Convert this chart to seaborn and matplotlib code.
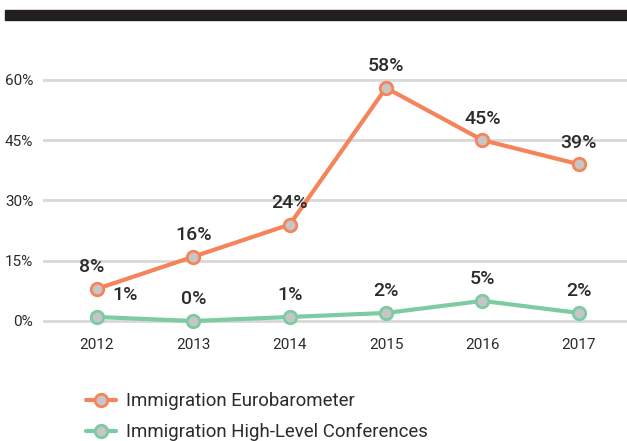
import matplotlib
matplotlib.use("Agg")
import matplotlib.pyplot as plt
from matplotlib.lines import Line2D
import seaborn as sns
import pandas as pd

years = [2012, 2013, 2014, 2015, 2016, 2017]
eurobarometer = [8, 16, 24, 58, 45, 39]
conferences = [1, 0, 1, 2, 5, 2]
series_names = ["Immigration Eurobarometer", "Immigration High-Level Conferences"]
y_ticks = [0, 15, 30, 45, 60]

ORANGE = "#F5845A"
GREEN = "#7CCBA2"
MARKER_FACE = "#C6C6C6"
TEXT = "#2B2B2B"
GRID = "#D8D8D8"

df = pd.DataFrame({
    "year": years * 2,
    "value": eurobarometer + conferences,
    "series": [series_names[0]] * len(years) + [series_names[1]] * len(years),
})

sns.set_theme(style="white")
plt.rcParams["font.family"] = ["Roboto", "DejaVu Sans"]

fig = plt.figure(figsize=(6.27, 4.41), dpi=100)
ax = fig.add_axes([43 / 627, 1 - 330 / 441, (627 - 43) / 627, 300 / 441])

palette = {series_names[0]: ORANGE, series_names[1]: GREEN}
sns.lineplot(data=df, x="year", y="value", hue="series", palette=palette,
             ax=ax, linewidth=3.0, marker="o", markersize=9,
             markerfacecolor=MARKER_FACE, markeredgewidth=2.0,
             legend=False, zorder=3)
for line, name in zip(ax.lines, series_names):
    line.set_markeredgecolor(palette[name])

ax.set_xlim(2011.44, 2017.5)
ax.set_ylim(-2.24, 72.4)
ax.set_yticks(y_ticks)
ax.set_yticklabels([f"{t}%" for t in y_ticks])
ax.set_xticks(years)
ax.set_xticklabels([str(y) for y in years])
ax.tick_params(axis="both", length=0, labelsize=11, labelcolor=TEXT)
ax.tick_params(axis="y", pad=7)
ax.tick_params(axis="x", pad=6)
ax.set_xlabel("")
ax.set_ylabel("")
ax.yaxis.grid(True, color=GRID, linewidth=2.0, zorder=0)
ax.xaxis.grid(False)
for s in ax.spines.values():
    s.set_visible(False)

# value labels
for i, (yr, v) in enumerate(zip(years, eurobarometer)):
    dx = -4 if i == 0 else 0
    ax.annotate(f"{v}%", (yr, v), xytext=(dx, 9), textcoords="offset points",
                ha="center", va="bottom", fontsize=14, fontweight="medium",
                color=TEXT)
for i, (yr, v) in enumerate(zip(years, conferences)):
    dx = 20 if i == 0 else 0
    ax.annotate(f"{v}%", (yr, v), xytext=(dx, 9), textcoords="offset points",
                ha="center", va="bottom", fontsize=14, fontweight="medium",
                color=TEXT)

# header bar
fig.add_artist(plt.Rectangle((5 / 627, 1 - 20 / 441), 1, 10 / 441,
                             transform=fig.transFigure, color="#231F20",
                             zorder=5))

handles = [Line2D([0], [0], color=palette[n], linewidth=3.0, marker="o",
                  markersize=9, markerfacecolor=MARKER_FACE,
                  markeredgecolor=palette[n], markeredgewidth=2.0)
           for n in series_names]
fig.legend(handles, series_names, loc="upper left",
           bbox_to_anchor=(73 / 627, 1 - 379 / 441), frameon=False,
           fontsize=13.4, labelcolor=TEXT, handlelength=1.6,
           handletextpad=0.55, labelspacing=0.7, borderpad=0.2)

fig.savefig("out.png", dpi=100)
